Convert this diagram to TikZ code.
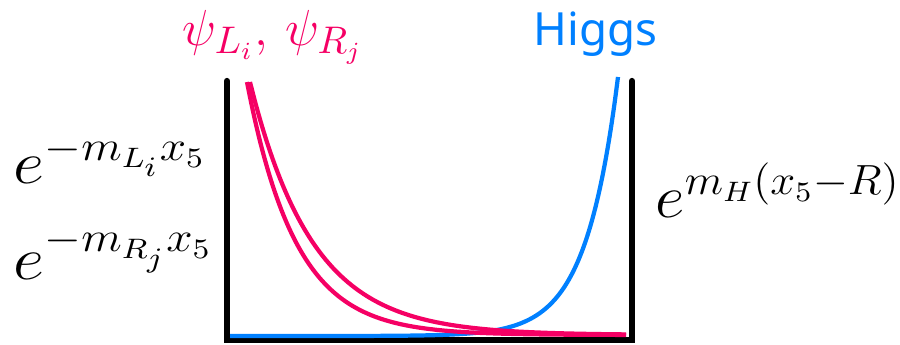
\documentclass[tikz,border=0pt]{standalone}
\usepackage{fontspec}
\newfontfamily\higgsfont{Noto Sans}
\definecolor{fermionpink}{RGB}{245,0,100}
\definecolor{higgsblue}{RGB}{0,128,255}
\begin{document}
\begin{tikzpicture}[x=0.01cm, y=-0.01cm,
    wall/.style={line width=1.8pt, line cap=round},
    profile/.style={line width=1.2pt, smooth, samples=120},
    expo/.style={anchor=base west, inner sep=0pt, font=\fontsize{16.5}{18}\selectfont}]
  \useasboundingbox (0,0) rectangle (900,344);
  % the interval in x5
  \coordinate (tl) at (227,81);
  \coordinate (bl) at (227,340);
  \coordinate (br) at (632,340);
  \coordinate (tr) at (632,81);
  \draw[wall] (tl) -- (bl) -- (br) -- (tr);
  % zero-mode profiles
  \draw[profile, higgsblue] plot[domain=230:618] (\x, {336-259*exp(0.031*(\x-618))});
  \draw[profile, fermionpink] plot[domain=250:626] (\x, {335-253*exp(-0.016*(\x-250))});
  \draw[profile, fermionpink] plot[domain=247:626] (\x, {335-253*exp(-0.0205*(\x-247))});
  % labels
  \node[expo] (expL) at (13,183) {\scalebox{1.12}[1]{$e^{-m_{L_i}x_5}$}};
  \node[expo] (expR) at (13,279) {\scalebox{1.12}[1]{$e^{-m_{R_j}x_5}$}};
  \node[expo] (expH) at (655,217) {\scalebox{1.06}[1]{$e^{m_H(x_5-R)}$}};
  \node[anchor=base west, inner sep=0pt, text=fermionpink, font=\fontsize{15}{17}\selectfont] (psi) at (182,45) {$\psi_{L_i},\,\psi_{R_j}$};
  \node[anchor=base west, inner sep=0pt, text=higgsblue, font=\fontsize{13}{15}\higgsfont] (higgs) at (533,45) {Higgs};
\end{tikzpicture}
\end{document}
